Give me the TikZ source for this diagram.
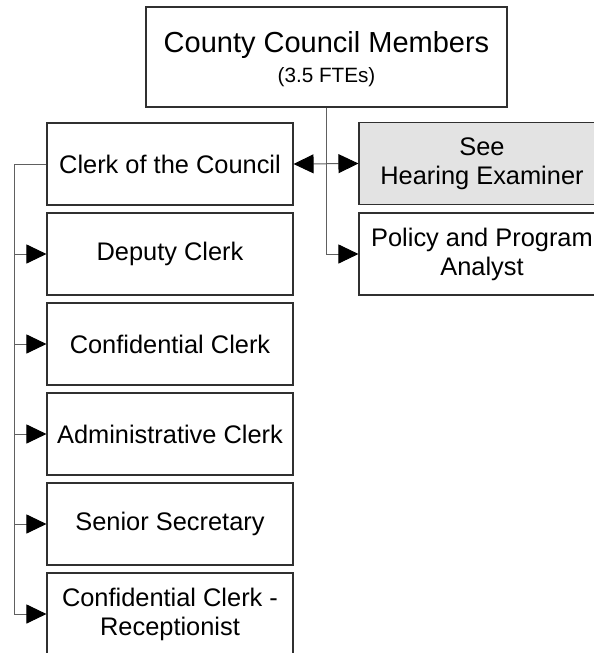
\documentclass[tikz,border=0pt]{standalone}
\usepackage{fontspec}
\setmainfont{Liberation Sans}
\usetikzlibrary{arrows.meta}
\definecolor{boxline}{HTML}{303030}
\definecolor{wire}{HTML}{606060}
\definecolor{shade}{HTML}{E3E3E3}
\begin{document}
\begin{tikzpicture}[x=1pt, y=-1pt,
  post/.style={draw=boxline, line width=1.1pt, fill=white, inner sep=0pt, align=center,
    minimum width=246pt, minimum height=82pt, font=\fontsize{25.4}{29}\selectfont},
  link/.style={draw=wire, line width=1pt, -{Triangle[length=20pt,width=19pt,color=black,fill=black]}}]
\useasboundingbox (0,0) rectangle (594,653);
\clip (0,0) rectangle (594,653);
\node[post,minimum width=361pt,minimum height=100pt] (council) at (326.5,57) {\fontsize{29}{30.5}\selectfont\rule{0pt}{25pt}County Council Members\\[1pt]\fontsize{20.7}{24}\selectfont (3.5 FTEs)};
\node[post] (clerk) at (170,164) {Clerk of the Council};
\node[post] (deputy) at (170,254) {Deputy Clerk};
\node[post] (conf) at (170,344) {Confidential Clerk};
\node[post] (admin) at (170,434) {Administrative Clerk};
\node[post] (senior) at (170,524) {Senior Secretary};
\node[post] (recep) at (170,614) {Confidential Clerk -\\Receptionist};
\node[post,fill=shade] (hearing) at (482,163.5) {See\\Hearing Examiner};
\node[post] (policy) at (482,254) {Policy and Program\\Analyst};
% council staff
\draw[link] (council.south) |- (policy.west);
\draw[link,{Triangle[length=20pt,width=19pt,color=black,fill=black]}-{Triangle[length=20pt,width=19pt,color=black,fill=black]}] (clerk.east) -- (hearing.west);
% clerk's office
\coordinate (bus) at (14.5,164);
\draw[link] (clerk.west) -- (bus) |- (recep.west);
\foreach \n in {deputy,conf,admin,senior}
  \draw[link] (bus |- \n.west) -- (\n.west);
\end{tikzpicture}
\end{document}
